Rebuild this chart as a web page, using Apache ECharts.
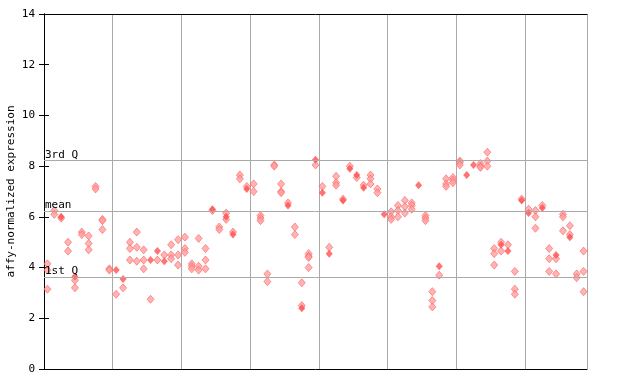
<!DOCTYPE html>
<html>
<head>
<meta charset="utf-8">
<script src="https://cdn.jsdelivr.net/npm/echarts@6/dist/echarts.min.js"></script>
<style>html,body{margin:0;padding:0;background:#fff}#c{width:640px;height:384px}</style>
</head>
<body>
<div id="c"></div>
<script>
// values per sample column (hollow and solid diamonds)
const hollow = [
  [4.15, 3.9, 3.15], [6.25, 6.1], [5.95], [5.0, 4.65], [3.5, 3.2],
  [5.4, 5.3], [5.25, 4.95, 4.7], [7.2, 7.1], [5.9, 5.85, 5.5], [3.95, 3.9],
  [2.95], [3.2], [5.0, 4.75, 4.3], [5.4, 4.8, 4.25], [4.7, 4.3, 3.95],
  [2.75], [4.3], [4.5], [4.9, 4.5, 4.35], [5.1, 4.5, 4.1],
  [5.2, 4.75, 4.6], [4.15, 4.05, 3.95], [5.15, 4.05, 3.9], [4.75, 4.3, 3.95], [6.25],
  [5.6, 5.5], [6.15, 5.9], [5.4], [7.65, 7.5], [7.2],
  [7.3, 7.0], [6.05, 5.95, 5.85], [3.75, 3.45], [8.05, 8.0], [7.3, 7.0, 6.95],
  [6.55], [5.6, 5.3], [3.4, 2.5], [4.55, 4.45, 4.4, 4.0], [8.05],
  [7.2], [4.8], [7.6, 7.35, 7.25], [6.7], [8.0],
  [7.55], [7.25], [7.65, 7.5, 7.3], [7.1, 6.95], [],
  [6.2, 6.0, 5.9], [6.45, 6.25, 6.0], [6.65, 6.4, 6.15], [6.55, 6.45, 6.3], [],
  [6.05, 5.95, 5.85], [3.05, 2.7, 2.45], [3.7], [7.5, 7.3, 7.2], [7.55, 7.45, 7.35],
  [8.2, 8.15, 8.05], [], [], [8.1, 8.0, 7.95], [8.55, 8.2, 8.0],
  [4.75, 4.55, 4.1], [5.0, 4.65], [4.9], [3.85, 3.15, 2.95], [6.7],
  [6.3], [6.25, 6.0, 5.55], [6.45], [4.75, 4.35, 3.85], [4.35, 3.75],
  [6.1, 6.0, 5.45], [5.65, 5.3], [3.75, 3.6], [4.65, 3.85, 3.05]
];
const solid = [
  [], [], [6.0], [], [3.65], [], [], [], [], [],
  [3.9], [3.55], [], [], [], [4.3], [4.65], [4.25], [], [],
  [], [], [], [], [6.3], [], [6.0], [5.3], [], [7.1],
  [], [], [], [], [], [6.45], [], [2.4], [], [8.25],
  [6.95], [4.55], [], [6.65], [7.9], [7.65], [7.15], [], [], [6.1],
  [], [], [], [], [7.25], [], [], [4.05], [], [],
  [], [7.65], [8.05], [], [], [], [4.9], [4.65], [], [6.65],
  [6.15], [], [6.35], [], [4.5], [], [5.2], [], []
];
const refLines = [
  { name: '3rd Q', value: 8.23 },
  { name: 'mean', value: 6.23 },
  { name: '1st Q', value: 3.63 }
];
const yTicks = [0, 2, 4, 6, 8, 10, 12, 14];
const nSamples = hollow.length;

function toPoints(cols) {
  const pts = [];
  cols.forEach((vals, i) => vals.forEach(v => pts.push([i + 0.5, v])));
  return pts;
}

const red = '#ff5050';
const font = 'DejaVu Sans Mono';
const chart = echarts.init(document.getElementById('c'), null, { renderer: 'canvas' });
chart.setOption({
  animation: false,
  grid: { left: 44, right: 53, top: 14, bottom: 15, containLabel: false, outerBoundsMode: 'none' },
  xAxis: [
    { type: 'value', min: 0, max: nSamples, interval: 10, position: 'bottom',
      axisLine: { show: true, lineStyle: { color: '#000', width: 1 } },
      axisTick: { show: false }, axisLabel: { show: false },
      splitLine: { show: true, lineStyle: { color: '#aaaaaa', width: 1 } } },
    { type: 'value', min: 0, max: nSamples, position: 'top',
      axisLine: { show: true, onZero: false, lineStyle: { color: '#000', width: 1 } },
      axisTick: { show: false }, axisLabel: { show: false }, splitLine: { show: false } }
  ],
  yAxis: [
    { type: 'value', min: yTicks[0], max: yTicks[yTicks.length - 1], interval: 2, position: 'left',
      name: 'affy-normalized expression', nameLocation: 'middle', nameGap: 27, nameRotate: 90,
      nameMoveOverlap: false,
      nameTextStyle: { fontFamily: font, fontSize: 11, color: '#000' },
      axisLine: { show: true, lineStyle: { color: '#000', width: 1 } },
      axisTick: { show: true, inside: true, length: 5, lineStyle: { color: '#000' } },
      axisLabel: { fontFamily: font, fontSize: 11, color: '#000', margin: 9 },
      splitLine: { show: false } },
    { type: 'value', min: yTicks[0], max: yTicks[yTicks.length - 1], interval: 2, position: 'right',
      axisLine: { show: true, lineStyle: { color: '#000', width: 1 } },
      axisTick: { show: true, inside: true, length: 5, lineStyle: { color: '#000' } },
      axisLabel: { show: false }, splitLine: { show: false } }
  ],
  series: [
    { type: 'scatter', data: toPoints(hollow), symbol: 'diamond', symbolSize: [7, 8],
      itemStyle: { color: '#ffa0a0', borderColor: '#ff6060', borderWidth: 0.8 },
      markLine: {
        silent: true, symbol: 'none', animation: false,
        lineStyle: { color: '#aaaaaa', type: 'solid', width: 1 },
        label: { show: true, position: 'insideStartTop', formatter: '{b}', distance: [1, 0],
                 fontFamily: font, fontSize: 11, color: '#000' },
        data: refLines.map(r => ({ name: r.name, yAxis: r.value }))
      } },
    { type: 'scatter', data: toPoints(solid), symbol: 'diamond', symbolSize: [7, 8],
      itemStyle: { color: red } }
  ]
});
</script>
</body>
</html>
